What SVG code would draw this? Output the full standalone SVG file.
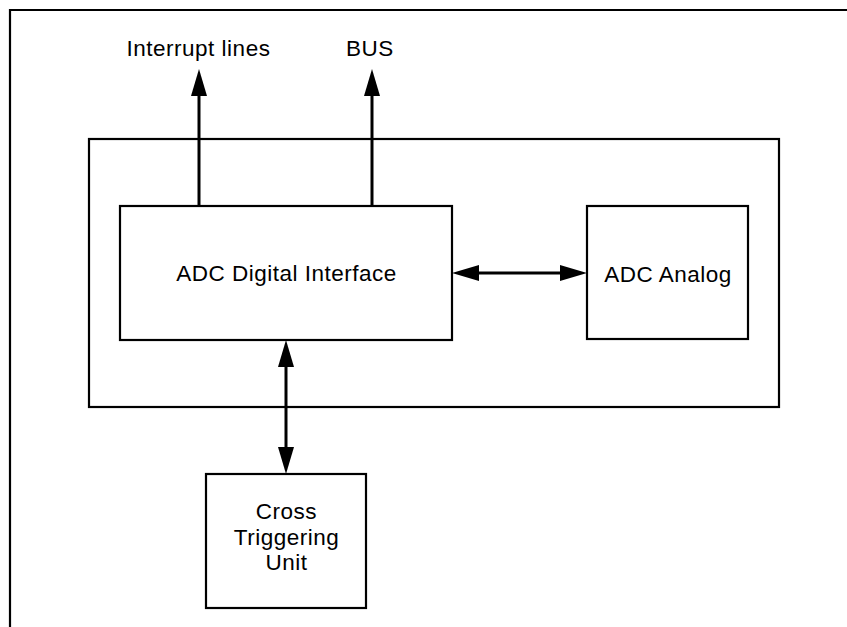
<svg xmlns="http://www.w3.org/2000/svg" width="847" height="627" viewBox="0 0 847 627">
  <style>
    .box { fill: #ffffff; stroke: #000000; stroke-width: 2.2; }
    .frame { fill: none; stroke: #000000; stroke-width: 2.2; }
    .conn { fill: none; stroke: #000000; stroke-width: 3; }
    .lbl { font-family: "Liberation Sans", Arial, Helvetica, sans-serif; font-size: 22.5px; letter-spacing: 0.5px; fill: #000000; text-anchor: middle; }
  </style>
  <defs>
    <marker id="arr" markerUnits="userSpaceOnUse" markerWidth="28" markerHeight="18" viewBox="0 0 28 18" refX="1" refY="9" orient="auto-start-reverse">
      <path d="M0,1 L27,9 L0,17 z" fill="#000000"/>
    </marker>
  </defs>
  <rect width="847" height="627" fill="#ffffff"/>
  <path class="frame" d="M10,627 V10 H847"/>

  <g id="container">
    <rect class="box" x="89" y="139" width="690" height="268"/>
  </g>

  <g id="adc-digital-interface">
    <rect class="box" x="120" y="206" width="332" height="134"/>
    <text class="lbl" x="286.5" y="281">ADC Digital Interface</text>
  </g>

  <g id="adc-analog">
    <rect class="box" x="587" y="206" width="161" height="133"/>
    <text class="lbl" x="668" y="281.5">ADC Analog</text>
  </g>

  <g id="cross-triggering-unit">
    <rect class="box" x="206" y="474" width="160" height="134"/>
    <text class="lbl" x="286.5" y="519">Cross</text>
    <text class="lbl" x="286.5" y="544.5">Triggering</text>
    <text class="lbl" x="286.5" y="570">Unit</text>
  </g>

  <g id="interrupt-lines-label">
    <text class="lbl" x="198.5" y="55.5">Interrupt lines</text>
  </g>
  <g id="bus-label">
    <text class="lbl" x="370" y="55.5">BUS</text>
  </g>

  <g id="connectors">
    <line class="conn" x1="199" y1="206" x2="199" y2="95" marker-end="url(#arr)"/>
    <line class="conn" x1="372" y1="206" x2="372" y2="95" marker-end="url(#arr)"/>
    <line class="conn" x1="478" y1="273" x2="561" y2="273" marker-start="url(#arr)" marker-end="url(#arr)"/>
    <line class="conn" x1="286" y1="366" x2="286" y2="448" marker-start="url(#arr)" marker-end="url(#arr)"/>
  </g>
</svg>
